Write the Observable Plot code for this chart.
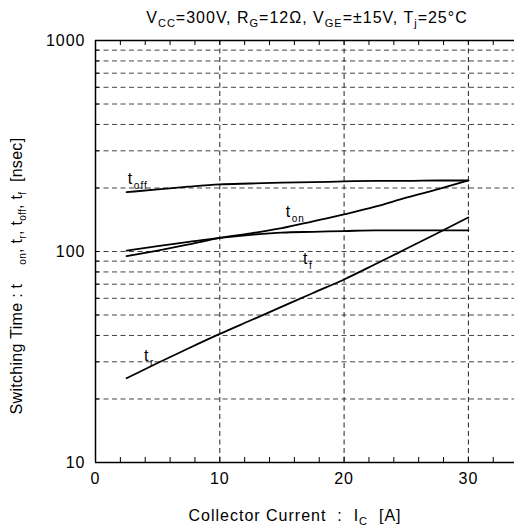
<!DOCTYPE html>
<html>
<head>
<meta charset="utf-8">
<script src="https://cdn.jsdelivr.net/npm/d3@7"></script>
<script src="https://cdn.jsdelivr.net/npm/@observablehq/plot@0.6"></script>
<style>
  html, body { margin: 0; padding: 0; background: #fff; }
  #chart svg { display: block; }
  #chart svg text { letter-spacing: 1px; }
</style>
</head>
<body>
<div id="chart"></div>
<script>
// Collector current [A]
const ic = [2.5, 5, 7.5, 10, 12.5, 15, 17.5, 20, 22.5, 25, 27.5, 30];
// Switching times [nsec]
const tOff = [191, 197, 203, 208, 210, 212, 213, 215, 216, 216, 217, 217];
const tOn  = [95, 101, 108, 116, 122, 129, 139, 150, 163, 180, 197, 217];
const tF   = [101, 106, 111, 116, 120, 123, 124, 125, 126, 126, 126, 126];
const tR   = [25.1, 29.6, 34.8, 40.7, 47.2, 54.8, 63.6, 73.7, 87, 103, 122, 145];

const seriesNames = ["toff", "ton", "tf", "tr"];
const seriesValues = [tOff, tOn, tF, tR];

// curve labels
const labelMain = ["t", "t", "t", "t"];
const labelSub = ["off", "on", "f", "r"];
const labelX = [2.6, 15.3, 16.7, 3.9];
const labelY = [217, 151, 90.6, 31.4];

// ticks & grid
const yTickLabels = [10, 100, 1000];
const xTickLabels = [0, 10, 20, 30];
const yMinor = [20, 30, 40, 50, 60, 70, 80, 90, 100, 200, 300, 400, 500, 600, 700, 800, 900];
const xMinor = [2, 4, 6, 8, 10, 12, 14, 16, 18, 20, 22, 24, 26, 28, 30, 32];
const xGrid = [10, 20, 30];

const W = 514, H = 529;
const mL = 95, mR = 0, mT = 40, mB = 67;
const plotW = W - mL - mR, plotH = H - mT - mB;

const data = [];
seriesNames.forEach((s, i) => ic.forEach((x, j) => data.push({series: s, ic: x, t: seriesValues[i][j]})));
const labels = labelMain.map((m, i) => ({main: m, sub: labelSub[i], x: labelX[i], y: labelY[i]}));

const plot = Plot.plot({
  width: W, height: H,
  marginLeft: mL, marginRight: mR, marginTop: mT, marginBottom: mB,
  style: {fontFamily: "'Liberation Sans', Arial, sans-serif", fontSize: "16px", background: "#fff", color: "#000"},
  x: {domain: [0, plotW / 12.43], label: null},
  y: {type: "log", domain: [10, 1000], label: null},
  marks: [
    Plot.ruleY(yMinor, {stroke: "#444", strokeDasharray: "5,3.5", strokeWidth: 1}),
    Plot.ruleX(xGrid, {stroke: "#222", strokeDasharray: "5,3.5", strokeWidth: 1}),
    // inward ticks
    Plot.ruleY(yMinor, {stroke: "#000", insetRight: plotW - 4}),
    Plot.ruleX(xMinor, {stroke: "#000", insetTop: plotH - 5}),
    Plot.ruleX(xMinor, {stroke: "#000", insetBottom: plotH - 5}),
    // frame lines
    Plot.ruleX([0], {stroke: "#000", strokeWidth: 1.5}),
    Plot.ruleY([10], {stroke: "#000", strokeWidth: 1.5}),
    Plot.ruleY([1000], {stroke: "#000", strokeWidth: 1.5}),
    Plot.axisY({ticks: yTickLabels, tickSize: 0, tickPadding: 10, tickFormat: d => String(d), label: null}),
    Plot.axisX({ticks: xTickLabels, tickSize: 0, tickPadding: 10, tickFormat: d => String(d), label: null}),
    Plot.line(data, {x: "ic", y: "t", z: "series", stroke: "#000", strokeWidth: 1.8, curve: "monotone-x"}),
    Plot.text(labels, {x: "x", y: "y", text: "main", textAnchor: "start", lineAnchor: "bottom", fontSize: 16, dy: 3}),
    Plot.text(labels, {x: "x", y: "y", text: "sub", textAnchor: "start", lineAnchor: "bottom", fontSize: 10, dx: 6, dy: 8})
  ]
});
document.getElementById("chart").appendChild(plot);

const svg = d3.select(plot);
const font = "'Liberation Sans', Arial, sans-serif";

function richText(parent, parts, size, subSize) {
  let pending = 0;
  parts.forEach(p => {
    if (typeof p === "string") {
      const t = parent.append("tspan").attr("font-size", size).text(p);
      if (pending) { t.attr("dy", -pending); pending = 0; }
    } else {
      parent.append("tspan").attr("font-size", subSize).attr("dy", p.dy).text(p.sub);
      pending = p.dy;
    }
  });
}

// title
const title = svg.append("text")
  .attr("x", 307).attr("y", 23)
  .attr("text-anchor", "middle")
  .attr("font-family", font)
  .attr("fill", "#000");
richText(title, ["V", {sub: "CC", dy: 4}, "=300V, R", {sub: "G", dy: 4}, "=12\u03A9, V", {sub: "GE", dy: 4}, "=\u00B115V, T", {sub: "j", dy: 4}, "=25\u00B0C"], 16, 11);

// x label
const xl = svg.append("text")
  .attr("x", 295).attr("y", 521)
  .attr("text-anchor", "middle")
  .attr("font-family", font)
  .attr("fill", "#000")
  .style("white-space", "pre");
richText(xl, ["Collector Current  :  I", {sub: "C", dy: 4}, "  [A]"], 16, 11);

// y label
const yl = svg.append("text")
  .attr("transform", "translate(22,276) rotate(-90)")
  .attr("text-anchor", "middle")
  .attr("font-family", font)
  .attr("fill", "#000")
  .style("letter-spacing", "0.3px")
  .style("white-space", "pre");
richText(yl, ["Switching Time : t    ", {sub: "on", dy: 4}, ", t", {sub: "r", dy: 4}, ", t", {sub: "off", dy: 4}, ", t", {sub: "f", dy: 4}, "  [nsec]"], 16, 10);
</script>
</body>
</html>
